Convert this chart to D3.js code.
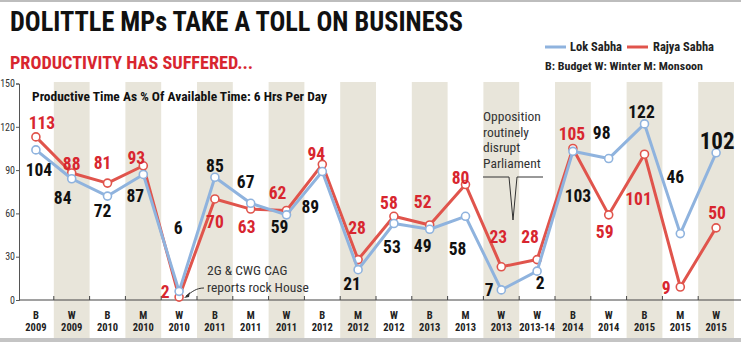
<!DOCTYPE html>
<html>
<head>
<meta charset="utf-8">
<script src="https://cdnjs.cloudflare.com/ajax/libs/d3/7.8.5/d3.min.js"></script>
<style>
  body { margin: 0; background: #fff; }
  svg text { font-family: "Liberation Sans Narrow", "Roboto Condensed", "Roboto", sans-serif; }
</style>
</head>
<body>
<div id="chart"></div>
<script>
// sessions and productivity (%)
const sessions = ["B", "W", "B", "M", "W", "B", "M", "W", "B", "M",
                  "W", "B", "M", "W", "W", "B", "W", "B", "M", "W"];
const years = ["2009", "2009", "2010", "2010", "2010", "2011", "2011", "2011", "2012", "2012",
               "2012", "2013", "2013", "2013", "2013-14", "2014", "2014", "2015", "2015", "2015"];
const lokSabha = [104, 84, 72, 87, 6, 85, 67, 59, 89, 21, 53, 49, 58, 7, 20, 103, 98, 122, 46, 102];
const rajyaSabha = [113, 88, 81, 93, 2, 70, 63, 62, 94, 28, 58, 52, 80, 23, 28, 105, 59, 101, 9, 50];
// printed labels (one of them differs from where the point sits)
const lokLabels = ["104", "84", "72", "87", "6", "85", "67", "59", "89", "21", "53", "49", "58", "7", "2", "103", "98", "122", "46", "102"];
const rajyaLabels = ["113", "88", "81", "93", "2", "70", "63", "62", "94", "28", "58", "52", "80", "23", "28", "105", "59", "101", "9", "50"];
const yTicks = [0, 30, 60, 90, 120, 150];

// label offsets from each point (placement only)
const lokDx = [3, -9, -5, -8, -1, 0, -5, -7, -12, -6, -2, -7, -8, -12, 3, 5, -7, -3, -5, 1];
const lokDy = [20, 19, 15, 21, -64, -12, -22, 12, 35, 14, 23, 16, 32, 0, 12, 44, -26, -12, -57, -12];
const rsDx = [6, 0, -5, -7, -14, 0, -4, -9, -6, -1, -5, -7, -5, -3, -7, -1, -4, -6, -14, 1];
const rsDy = [-14, -9, -20, -8, -5, 23, 18, -18, -11, -32, -14, -23, -7, -30, -23, -15, 17, 44, 1, -15];

const W = 741, H = 344;
const cats = sessions.map((s, i) => s + " " + years[i]);

const svg = d3.select("#chart").append("svg")
  .attr("width", W).attr("height", H);

const x = d3.scaleBand().domain(cats).range([18, 734]).padding(0);
const y = d3.scaleLinear().domain([0, 150]).range([300, 83.5]);

// frame lines
svg.append("rect").attr("x", 0).attr("y", 0).attr("width", W).attr("height", 2).attr("fill", "#bdbdbd");
svg.append("rect").attr("x", 0).attr("y", 338).attr("width", W).attr("height", 4).attr("fill", "#c4c4c4");

// shaded bands
svg.selectAll("rect.band")
  .data(cats.filter((d, i) => i % 2 === 1))
  .enter().append("rect")
  .attr("class", "band")
  .attr("x", d => x(d))
  .attr("y", 82)
  .attr("width", x.bandwidth())
  .attr("height", 256)
  .attr("fill", "#e8e5da");

// titles
svg.append("text")
  .attr("x", 10).attr("y", 31)
  .attr("font-size", 28).attr("font-weight", "bold").attr("fill", "#111")
  .attr("textLength", 453).attr("lengthAdjust", "spacingAndGlyphs")
  .text("DOLITTLE MPs TAKE A TOLL ON BUSINESS");

svg.append("text")
  .attr("x", 10).attr("y", 69)
  .attr("font-size", 19).attr("font-weight", "bold").attr("fill", "#d8262f")
  .attr("textLength", 243).attr("lengthAdjust", "spacingAndGlyphs")
  .text("PRODUCTIVITY HAS SUFFERED...");

// legend
const legend = svg.append("g").attr("font-weight", "bold").attr("fill", "#222");
legend.append("line").attr("x1", 545).attr("x2", 566).attr("y1", 47).attr("y2", 47)
  .attr("stroke", "#8fb3de").attr("stroke-width", 3);
legend.append("text").attr("x", 570).attr("y", 51).attr("font-size", 12.5).text("Lok Sabha");
legend.append("line").attr("x1", 627).attr("x2", 648).attr("y1", 47).attr("y2", 47)
  .attr("stroke", "#e0544c").attr("stroke-width", 3);
legend.append("text").attr("x", 653).attr("y", 51).attr("font-size", 12.5).text("Rajya Sabha");
legend.append("text").attr("x", 545).attr("y", 70).attr("font-size", 11)
  .attr("textLength", 158).attr("lengthAdjust", "spacingAndGlyphs")
  .text("B: Budget   W: Winter   M: Monsoon");

// plot heading
svg.append("text")
  .attr("x", 32).attr("y", 101)
  .attr("font-size", 13).attr("font-weight", "bold").attr("fill", "#111")
  .attr("textLength", 295).attr("lengthAdjust", "spacingAndGlyphs")
  .text("Productive Time As % Of Available Time: 6 Hrs Per Day");

// y axis
const yAxis = svg.append("g")
  .attr("transform", "translate(19,0)")
  .call(d3.axisLeft(y).tickValues(yTicks).tickSize(3).tickPadding(1));
yAxis.selectAll("path, line").attr("stroke", "#555");
yAxis.selectAll("text").attr("font-size", 10).attr("fill", "#333")
  .style("font-family", "'Liberation Sans Narrow', 'Roboto Condensed', Roboto, sans-serif");

// x axis line with boundary ticks
svg.append("line").attr("x1", 19).attr("x2", W).attr("y1", 300).attr("y2", 300)
  .attr("stroke", "#444").attr("stroke-width", 1.2);
svg.selectAll("line.xtick")
  .data(cats.slice(1))
  .enter().append("line")
  .attr("class", "xtick")
  .attr("x1", d => x(d)).attr("x2", d => x(d))
  .attr("y1", 296).attr("y2", 300)
  .attr("stroke", "#444");

const xl = svg.selectAll("g.xlab")
  .data(cats)
  .enter().append("g")
  .attr("class", "xlab")
  .attr("transform", d => "translate(" + (x(d) + x.bandwidth() / 2) + ",0)")
  .attr("text-anchor", "middle").attr("font-weight", "bold").attr("fill", "#222")
  .attr("font-size", 10.5);
xl.append("text").attr("y", 319).text((d, i) => sessions[i]);
xl.append("text").attr("y", 331).text((d, i) => years[i]);

// lines
const cx = i => x(cats[i]) + x.bandwidth() / 2;
const line = d3.line().x((d, i) => cx(i)).y(d => y(d));

function drawSeries(values, color) {
  svg.append("path")
    .datum(values)
    .attr("fill", "none")
    .attr("stroke", color)
    .attr("stroke-width", 3)
    .attr("stroke-linejoin", "round")
    .attr("d", line);
  svg.append("g").selectAll("circle")
    .data(values)
    .enter().append("circle")
    .attr("cx", (d, i) => cx(i))
    .attr("cy", d => y(d))
    .attr("r", 4)
    .attr("fill", "#fff")
    .attr("stroke", color)
    .attr("stroke-width", 1.6);
}
drawSeries(rajyaSabha, "#e0544c");
drawSeries(lokSabha, "#8fb3de");

// value labels
function drawLabels(values, labels, dx, dy, color) {
  svg.append("g").selectAll("text")
    .data(values)
    .enter().append("text")
    .attr("x", (d, i) => cx(i) + dx[i])
    .attr("y", (d, i) => y(d) + dy[i])
    .attr("dy", "0.36em")
    .attr("text-anchor", "middle")
    .attr("font-weight", "bold")
    .attr("font-size", (d, i) => i === values.length - 1 && color === "#111" ? 23 : 17.5)
    .attr("fill", color)
    .text((d, i) => labels[i]);
}
drawLabels(lokSabha, lokLabels, lokDx, lokDy, "#111");
drawLabels(rajyaSabha, rajyaLabels, rsDx, rsDy, "#d8262f");

// annotation: 2G & CWG
const ann1 = svg.append("g").attr("font-size", 13.5).attr("fill", "#333");
ann1.append("text").attr("x", 207).attr("y", 275).text("2G & CWG CAG");
ann1.append("text").attr("x", 207).attr("y", 292).text("reports rock House");
svg.append("path")
  .attr("d", "M204,288 C196,288 192,292 186,296")
  .attr("fill", "none").attr("stroke", "#333").attr("stroke-width", 1);
svg.append("path")
  .attr("d", "M184,298 L190,292 L189,297 Z")
  .attr("fill", "#333");

// annotation: opposition
const ann2 = svg.append("g").attr("font-size", 13.5).attr("fill", "#333");
["Opposition", "routinely", "disrupt", "Parliament"].forEach((t, i) => {
  ann2.append("text").attr("x", 483).attr("y", 121 + i * 15.7).text(t);
});
svg.append("path")
  .attr("d", "M483,177 L509,177 L513,220 L517,177 L543,177")
  .attr("fill", "none").attr("stroke", "#333").attr("stroke-width", 1);
</script>
</body>
</html>
